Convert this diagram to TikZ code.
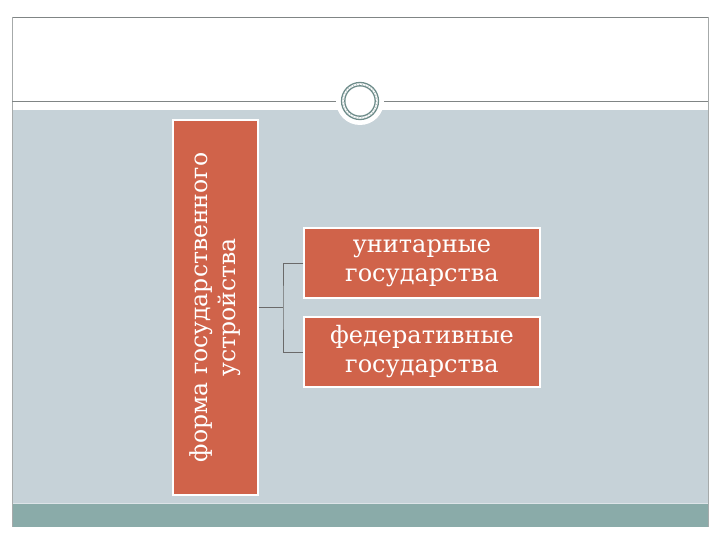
\documentclass[tikz,border=0pt]{standalone}
\usepackage{fontspec}
\setmainfont{DejaVu Serif}
\definecolor{panel}{HTML}{C6D2D8}
\definecolor{band}{HTML}{8AABA9}
\definecolor{boxfill}{HTML}{D0634A}
\definecolor{frameline}{HTML}{808585}
\definecolor{ringc}{HTML}{6E8C8A}
\definecolor{connc}{HTML}{6A6A6A}
\begin{document}
\begin{tikzpicture}[x=1pt,y=-1pt,
  orbox/.style={draw=white,line width=1.2pt,fill=boxfill,text=white,align=center,inner sep=0pt},
  conn/.style={draw=connc,line width=0.9pt}]
\useasboundingbox (0,0) rectangle (720,540);
\fill[white] (0,0) rectangle (720,540);
% panels
\fill[panel] (12,110) rectangle (708,503);
\fill[band] (12,503) rectangle (708,527);
\draw[panel!60!white,line width=1pt] (12,503) -- (708,503);
% frame
\draw[frameline,line width=0.8pt] (12,17) -- (708,17);
\draw[frameline!70!white,line width=0.6pt] (12,17) -- (12,527) (708,17) -- (708,527);
\draw[frameline,line width=0.8pt] (12,101) -- (708,101);
% circle emblem
\fill[white] (360,101) circle (24);
\draw[ringc,line width=1.3pt] (360,101) circle (18.5);
\draw[ringc,line width=1.3pt] (360,101) circle (15.2);
\draw[ringc!50!white,line width=1pt,dotted] (360,101) circle (16.8);
% boxes
\node[orbox,minimum width=85pt,minimum height=375pt] (main) at (215.5,307.5) {};
\node[rotate=90,text=white,align=center,font=\fontsize{23.5}{28}\selectfont] (maintext) at (main.center) {форма государственного\\устройства};
\node[orbox,minimum width=236pt,minimum height=70pt,font=\fontsize{24}{29}\selectfont] (b1) at (422,263) {унитарные\\государства};
\node[orbox,minimum width=236pt,minimum height=70pt,font=\fontsize{24}{29}\selectfont] (b2) at (422,352) {федеративные\\государства};
\coordinate (j) at (283,307.5);
\draw[conn] (main.east) -- (j);
\draw[conn] (b1.west) -| (j) |- (b2.west);
\end{tikzpicture}
\end{document}
